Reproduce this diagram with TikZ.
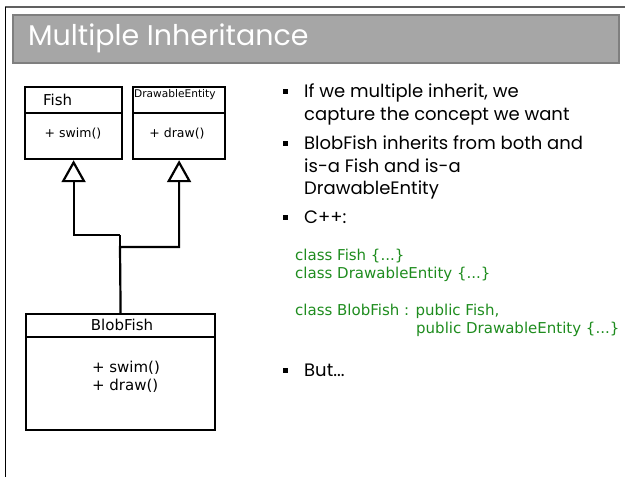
\documentclass[tikz,border=0pt]{standalone}
\usepackage{fontspec}
\setmainfont{Poppins}
\newfontfamily\umlfont{DejaVu Sans}
\usetikzlibrary{arrows.meta}
\definecolor{titlegray}{HTML}{A6A6A6}
\definecolor{titleborder}{HTML}{7F7F7F}
\definecolor{framegray}{HTML}{606060}
\definecolor{codegreen}{HTML}{1E8C1E}
\tikzset{
  umlbox/.style={draw, line width=2.2pt, inner sep=0pt, anchor=north west},
  umltext/.style={inner sep=0pt, font=\umlfont\fontsize{12.5}{15}\selectfont},
  bigumltext/.style={inner sep=0pt, font=\umlfont\fontsize{15}{18}\selectfont, align=left},
  inh/.style={line width=2.2pt, -{Triangle[open, length=22pt, width=24pt, line width=2.2pt]}},
  conn/.style={line width=2.2pt},
  bullettext/.style={inner sep=0pt, anchor=base west, font=\fontsize{18}{22}\selectfont},
  codetext/.style={inner sep=0pt, anchor=base west, text=codegreen, font=\umlfont\fontsize{15}{18}\selectfont},
  bulletmark/.style={fill=black, minimum size=5pt, inner sep=0pt}
}
\begin{document}
\begin{tikzpicture}[x=1pt, y=-1pt]
\useasboundingbox (0,0) rectangle (625,477);
% frame
\draw[framegray, line width=1.6pt] (5,7) -- (625,7);
\draw[black, line width=1pt] (5,7) -- (5,477);
% title bar
\node[draw=titleborder, fill=titlegray, line width=1.5pt, minimum width=606pt, minimum height=48pt, anchor=north west, inner sep=0pt] (titlebar) at (12,14) {};
\node[anchor=west, inner sep=0pt, text=white, font=\fontsize{28.5}{32}\selectfont] (title) at (28,38) {Multiple Inheritance};
% UML boxes
\node[umlbox, minimum width=97pt, minimum height=26pt] (fishhead) at (24,86) {};
\node[umlbox, minimum width=97pt, minimum height=46pt] (fishbody) at (24,112) {};
\node[umlbox, minimum width=92pt, minimum height=26pt] (drawhead) at (132,86) {};
\node[umlbox, minimum width=92pt, minimum height=46pt] (drawbody) at (132,112) {};
\node[umlbox, minimum width=189pt, minimum height=23pt] (blobhead) at (25,313) {};
\node[umlbox, minimum width=189pt, minimum height=93pt] (blobbody) at (25,336) {};
\node[umltext, anchor=west, font=\umlfont\fontsize{15}{18}\selectfont] (fishname) at (43,100) {Fish};
\node[umltext] (fishop) at (73,134) {+ swim()};
\node[umltext, anchor=west, font=\umlfont\fontsize{10.6}{12}\selectfont] (drawname) at (134,95) {DrawableEntity};
\node[umltext] (drawop) at (177,134) {+ draw()};
\node[bigumltext] (blobname) at (122,325) {BlobFish};
\node[bigumltext] (blobops) at (126,377) {+ swim()\\+ draw()};
% connectors
\coordinate (jf) at (120,235);
\coordinate (jd) at (120,247);
\draw[inh] (jf) -| (fishbody.south);
\draw[inh] (blobhead.north) -- (jd) -| (drawbody.south);
\draw[conn] (jd) -- (jf);
% bullets
\node[bulletmark] (b1) at (285,91) {};
\node[bullettext] (t1a) at (304,97) {If we multiple inherit, we};
\node[bullettext] (t1b) at (304,120) {capture the concept we want};
\node[bulletmark] (b2) at (285,143) {};
\node[bullettext] (t2a) at (304,149) {BlobFish inherits from both and};
\node[bullettext] (t2b) at (304,172) {is-a Fish and is-a};
\node[bullettext] (t2c) at (304,194) {DrawableEntity};
\node[bulletmark] (b3) at (285,217) {};
\node[bullettext] (t3) at (304,223) {C++:};
\node[codetext] (c1) at (295,260) {class Fish \{...\}};
\node[codetext] (c2) at (295,278) {class DrawableEntity \{...\}};
\node[codetext] (c3) at (295,315) {class BlobFish : public Fish,};
\node[codetext] (c4) at (416,333) {public DrawableEntity \{...\}};
\node[bulletmark] (b4) at (285,370) {};
\node[bullettext] (t4) at (304,376) {But...};
\end{tikzpicture}
\end{document}
